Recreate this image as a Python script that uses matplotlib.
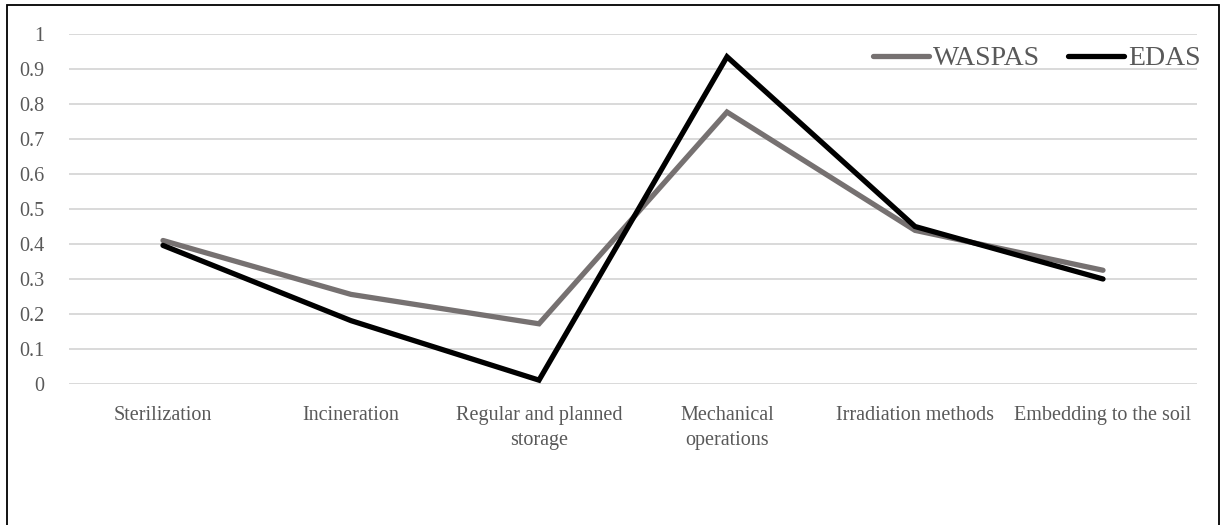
import numpy as np
import matplotlib.pyplot as plt
from matplotlib.patches import Rectangle

# Methods compared and their scores
categories = ['Sterilization', 'Incineration', 'Regular and planned\nstorage',
              'Mechanical\noperations', 'Irradiation methods', 'Embedding to the soil']
waspas = [0.410, 0.256, 0.172, 0.777, 0.439, 0.325]
edas = [0.396, 0.181, 0.011, 0.935, 0.450, 0.300]
y_ticks = [0, 0.1, 0.2, 0.3, 0.4, 0.5, 0.6, 0.7, 0.8, 0.9, 1]
y_tick_labels = ['0', '0.1', '0.2', '0.3', '0.4', '0.5', '0.6', '0.7', '0.8', '0.9', '1']

plt.rcParams['font.family'] = ['Liberation Serif', 'DejaVu Serif']
text_color = '#595959'

fig = plt.figure(figsize=(12.21, 5.25), dpi=100)
ax = fig.add_axes([69 / 1221, 1 - 384 / 525, 1128 / 1221, 350 / 525])

x = np.arange(len(categories))
ax.plot(x, waspas, color='#767171', lw=3.8, solid_capstyle='round',
        solid_joinstyle='miter', label='WASPAS', zorder=3)
ax.plot(x, edas, color='black', lw=3.8, solid_capstyle='round',
        solid_joinstyle='miter', label='EDAS', zorder=3)

ax.set_xlim(-0.5, len(categories) - 0.5)
ax.set_ylim(0, 1)
ax.set_yticks(y_ticks)
ax.set_yticklabels(y_tick_labels)
ax.set_xticks(x)
ax.set_xticklabels(categories, linespacing=1.42)
ax.tick_params(axis='both', length=0, labelsize=14.5, colors=text_color)
ax.tick_params(axis='y', pad=18)
ax.tick_params(axis='x', pad=16)

ax.yaxis.grid(True, color='#d9d9d9', lw=1.4)
ax.set_axisbelow(True)
for s in ax.spines.values():
    s.set_visible(False)

leg = ax.legend(loc='center right', bbox_to_anchor=(1.003, 0.93), ncol=2,
                frameon=False, fontsize=20, handlelength=2.0, handletextpad=0.15,
                columnspacing=1.0, borderpad=0, borderaxespad=0)
for t in leg.get_texts():
    t.set_color(text_color)

# outer frame around the figure
fig.patches.append(Rectangle((7 / 1221, -0.05), 1212 / 1221, 1.05 - 5 / 525,
                             transform=fig.transFigure, fill=False,
                             edgecolor='black', lw=1.3))

fig.savefig('out.png', dpi=100)
